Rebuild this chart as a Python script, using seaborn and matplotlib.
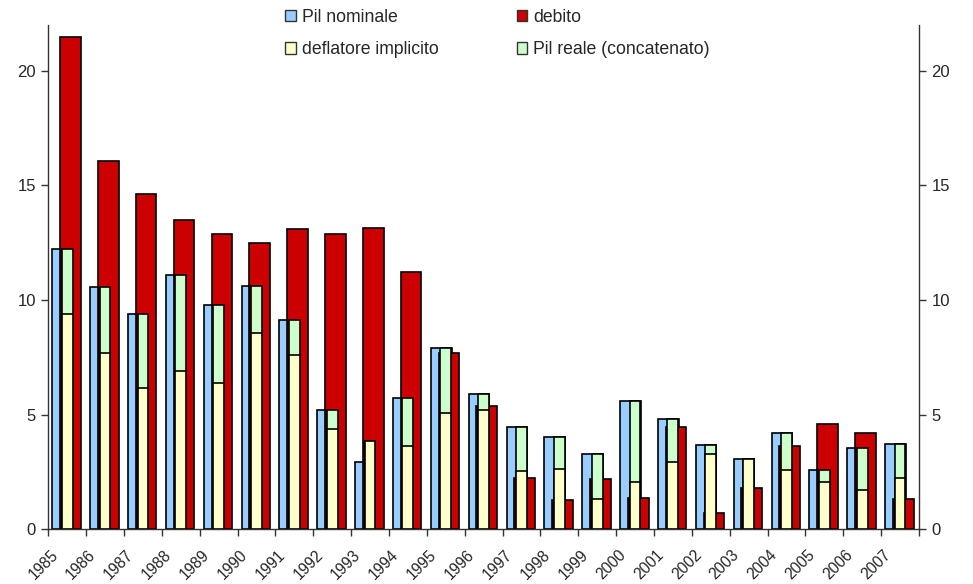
import numpy as np
import pandas as pd
import seaborn as sns
import matplotlib as mpl
from matplotlib import pyplot as plt
from matplotlib.patches import Patch

sns.set_style('white')
mpl.rcParams['font.family'] = ['Liberation Sans', 'DejaVu Sans']

# dati (variazioni %)
anni = [str(a) for a in range(1985, 2008)]
pil_nominale = [12.22, 10.57, 9.39, 11.10, 9.80, 10.61, 9.14, 5.18, 2.95, 5.72,
                7.90, 5.91, 4.44, 4.01, 3.26, 5.61, 4.79, 3.66, 3.08, 4.19,
                2.60, 3.55, 3.71]
debito = [21.48, 16.05, 14.64, 13.51, 12.86, 12.51, 13.10, 12.86, 13.15, 11.21,
          7.68, 5.37, 2.25, 1.26, 2.19, 1.37, 4.44, 0.72, 1.78, 3.61,
          4.60, 4.19, 1.30]
deflatore = [9.39, 7.67, 6.15, 6.91, 6.38, 8.56, 7.62, 4.37, 3.84, 3.61,
             5.08, 5.20, 2.54, 2.61, 1.30, 2.06, 2.95, 3.26, 3.08, 2.60,
             2.06, 1.71, 2.25]
pil_reale = [2.83, 2.90, 3.24, 4.19, 3.42, 2.05, 1.52, 0.81, -0.89, 2.11,
             2.82, 0.71, 1.90, 1.40, 1.96, 3.55, 1.84, 0.40, 0.00, 1.59,
             0.54, 1.84, 1.46]

c_blu, c_rosso, c_giallo, c_verde = '#99CCFF', '#CC0000', '#FFFFCC', '#CCFFCC'

df = pd.DataFrame({'anno': anni, 'nom': pil_nominale, 'deb': debito,
                   'defl': deflatore, 'reale': pil_reale})
idx = np.arange(len(df))
# barra impilata: il reale negativo va sotto lo zero (non visibile)
df['impilato'] = df['defl'] + df['reale'].clip(lower=0)

fig, ax = plt.subplots(figsize=(9.73, 5.84), dpi=100)
fig.subplots_adjust(left=0.0497, right=0.9445, bottom=0.094, top=0.957)

bar_kw = dict(native_scale=True, errorbar=None, edgecolor='black',
              linewidth=1.2, saturation=1, ax=ax)
sns.barplot(x=idx + 0.3775, y=df['nom'], width=0.545, color=c_blu, **bar_kw)
sns.barplot(x=idx + 0.5825, y=df['deb'], width=0.545, color=c_rosso, **bar_kw)
sns.barplot(x=idx + 0.4975, y=df['impilato'], width=0.285, color=c_verde,
            **bar_kw)
sns.barplot(x=idx + 0.4975, y=df['defl'], width=0.285, color=c_giallo,
            **bar_kw)

ax.set_xlim(0, len(df))
ax.set_ylim(0, 22)
ax.set_xlabel('')
ax.set_ylabel('')

ax.set_xticks(np.arange(len(df) + 1))
ax.set_xticklabels([])
ax.set_xticks(idx + 0.33, labels=anni, minor=True, rotation=45,
              ha='right', va='top', fontsize=11.2)
ax.tick_params(axis='x', which='major', direction='out', length=5,
               width=1, color='#333333', bottom=True)
ax.tick_params(axis='x', which='minor', length=0, pad=13)

ax.set_yticks([0, 5, 10, 15, 20])
ax.tick_params(axis='y', which='major', direction='out', length=5, width=1,
               color='#333333', left=True, right=True, labelleft=True,
               labelright=True, labelsize=12, pad=4)

for s in ['left', 'right', 'bottom']:
    ax.spines[s].set_color('#333333')
    ax.spines[s].set_linewidth(1)
ax.spines['top'].set_visible(False)

handles = [Patch(facecolor=c_blu, edgecolor='#333333', label='Pil nominale'),
           Patch(facecolor=c_giallo, edgecolor='#333333', label='deflatore implicito'),
           Patch(facecolor=c_rosso, edgecolor='#333333', label='debito'),
           Patch(facecolor=c_verde, edgecolor='#333333', label='Pil reale (concatenato)')]
fig.legend(handles=handles, ncol=2, loc='upper left',
           bbox_to_anchor=(285 / 973, 1 - 9 / 584), frameon=False,
           fontsize=12.7, handlelength=0.6, handleheight=0.6,
           handletextpad=0.35, labelspacing=0.86, columnspacing=4.43,
           borderpad=0, borderaxespad=0)

fig.savefig('out.png')
